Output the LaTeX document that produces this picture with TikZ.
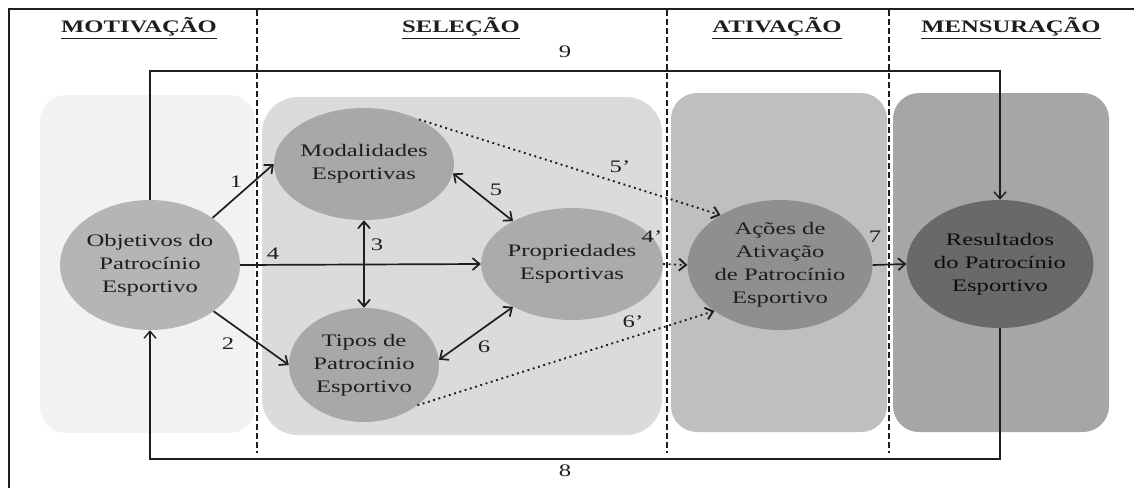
\documentclass[tikz,border=0pt]{standalone}
\usepackage{fontspec}
\setmainfont{Liberation Serif}[FakeStretch=1.4]
\usetikzlibrary{shapes.geometric,arrows.meta}

\definecolor{inkgray}{HTML}{1E1E1E}
\definecolor{panelA}{HTML}{F1F2F4}
\definecolor{panelB}{HTML}{DBDBDB}
\definecolor{panelC}{HTML}{BFBFBF}
\definecolor{panelD}{HTML}{A6A6A6}

\begin{document}
\begin{tikzpicture}[x=1pt,y=1pt,
    font=\fontsize{17.6}{23}\selectfont, text=inkgray,
    panel/.style={rounded corners=26pt},
    bubble/.style={ellipse, inner sep=0pt, align=center},
    flow/.style={draw=inkgray, line width=1.7pt,
      -{Straight Barb[length=7pt,width=12pt]}},
    both/.style={flow, {Straight Barb[length=7pt,width=12pt]}-{Straight Barb[length=7pt,width=12pt]}},
    hint/.style={flow, line width=1.9pt, dash pattern=on 1.9pt off 3.6pt},
    divider/.style={draw=inkgray, line width=1.2pt, dash pattern=on 6pt off 3pt},
    lbl/.style={inner sep=0pt}]
  \useasboundingbox (0,0) rectangle (1134,-488);

  % Frame
  \draw[inkgray, line width=1.8pt] (9,-488) -- (9,-9) -- (1134,-9);

  % Panels
  \fill[panelA, panel] (40,-95) rectangle (255,-433);
  \fill[panelB, panel, rounded corners=36pt] (262,-97) rectangle (662,-435);
  \fill[panelC, panel] (671,-93) rectangle (887,-432);
  \fill[panelD, panel] (893,-93) rectangle (1109,-432);

  % Phase dividers
  \foreach \x in {257,667,889}
    \draw[divider] (\x,-10) -- (\x,-453);

  % Phase titles
  \foreach \n/\x/\t in {mot/139/MOTIVAÇÃO, sel/461/SELEÇÃO, atv/777/ATIVAÇÃO, men/1011/MENSURAÇÃO}
    \node[lbl] (h\n) at (\x,-28) {\bfseries\underline{\t}};

  % Constructs
  \node[bubble, fill=black!29, minimum width=180pt, minimum height=130pt] (obj) at (150,-265) {Objetivos do\\Patrocínio\\Esportivo};
  \node[bubble, fill=black!34, minimum width=150pt, minimum height=112pt] (mod) at (364,-164) {Modalidades\\Esportivas};
  \node[bubble, fill=black!34, minimum width=150pt, minimum height=114pt] (tip) at (364,-365) {Tipos de\\Patrocínio\\Esportivo};
  \node[bubble, fill=black!33, minimum width=150pt, minimum height=112pt] (pro) at (572,-264) {Propriedades\\Esportivas};
  \node[bubble, fill=black!44, minimum width=180pt, minimum height=130pt] (aca) at (780,-265) {Ações de\\Ativação\\de Patrocínio\\Esportivo};
  \node[bubble, fill=black!59, minimum width=180pt, minimum height=128pt, text=black!95] (res) at (1000,-264) {Resultados\\do Patrocínio\\Esportivo};

  % Loop coordinates
  \coordinate (top) at (575,-71);
  \coordinate (bot) at (575,-459);

  % Relations
  \draw[flow] (obj.37) -- (mod.west);
  \draw[flow] (obj.-36) -- (tip.west);
  \draw[flow] (obj.east) -- (pro.west);
  \draw[both] (mod.south) -- (tip.north);
  \draw[both] (mod.-6) -- (pro.144);
  \draw[both] (tip.4) -- (pro.216);
  \draw[hint] (mod.39) -- (aca.140);
  \draw[hint] (pro.east) -- (aca.west);
  \draw[hint] (tip.-37) -- (aca.215);
  \draw[flow] (aca.east) -- (res.west);
  \draw[flow, line width=1.4pt] (obj.north) |- (top) -| (res.north);
  \draw[flow, line width=1.4pt] (res.south) |- (bot) -| (obj.south);

  % Relation numbers
  \foreach \n/\x/\y/\t in {a/236/182/1, b/228/344/2, c/377/245/3, d/273/254/4, e/496/190/5,
      f/484/347/6, g/620/167/5’, h/652/237/4’, i/633/322/6’, j/875/237/7, k/565/52/9, l/565/471/8}
    \node[lbl] (n\n) at (\x,-\y) {\t};
\end{tikzpicture}
\end{document}
